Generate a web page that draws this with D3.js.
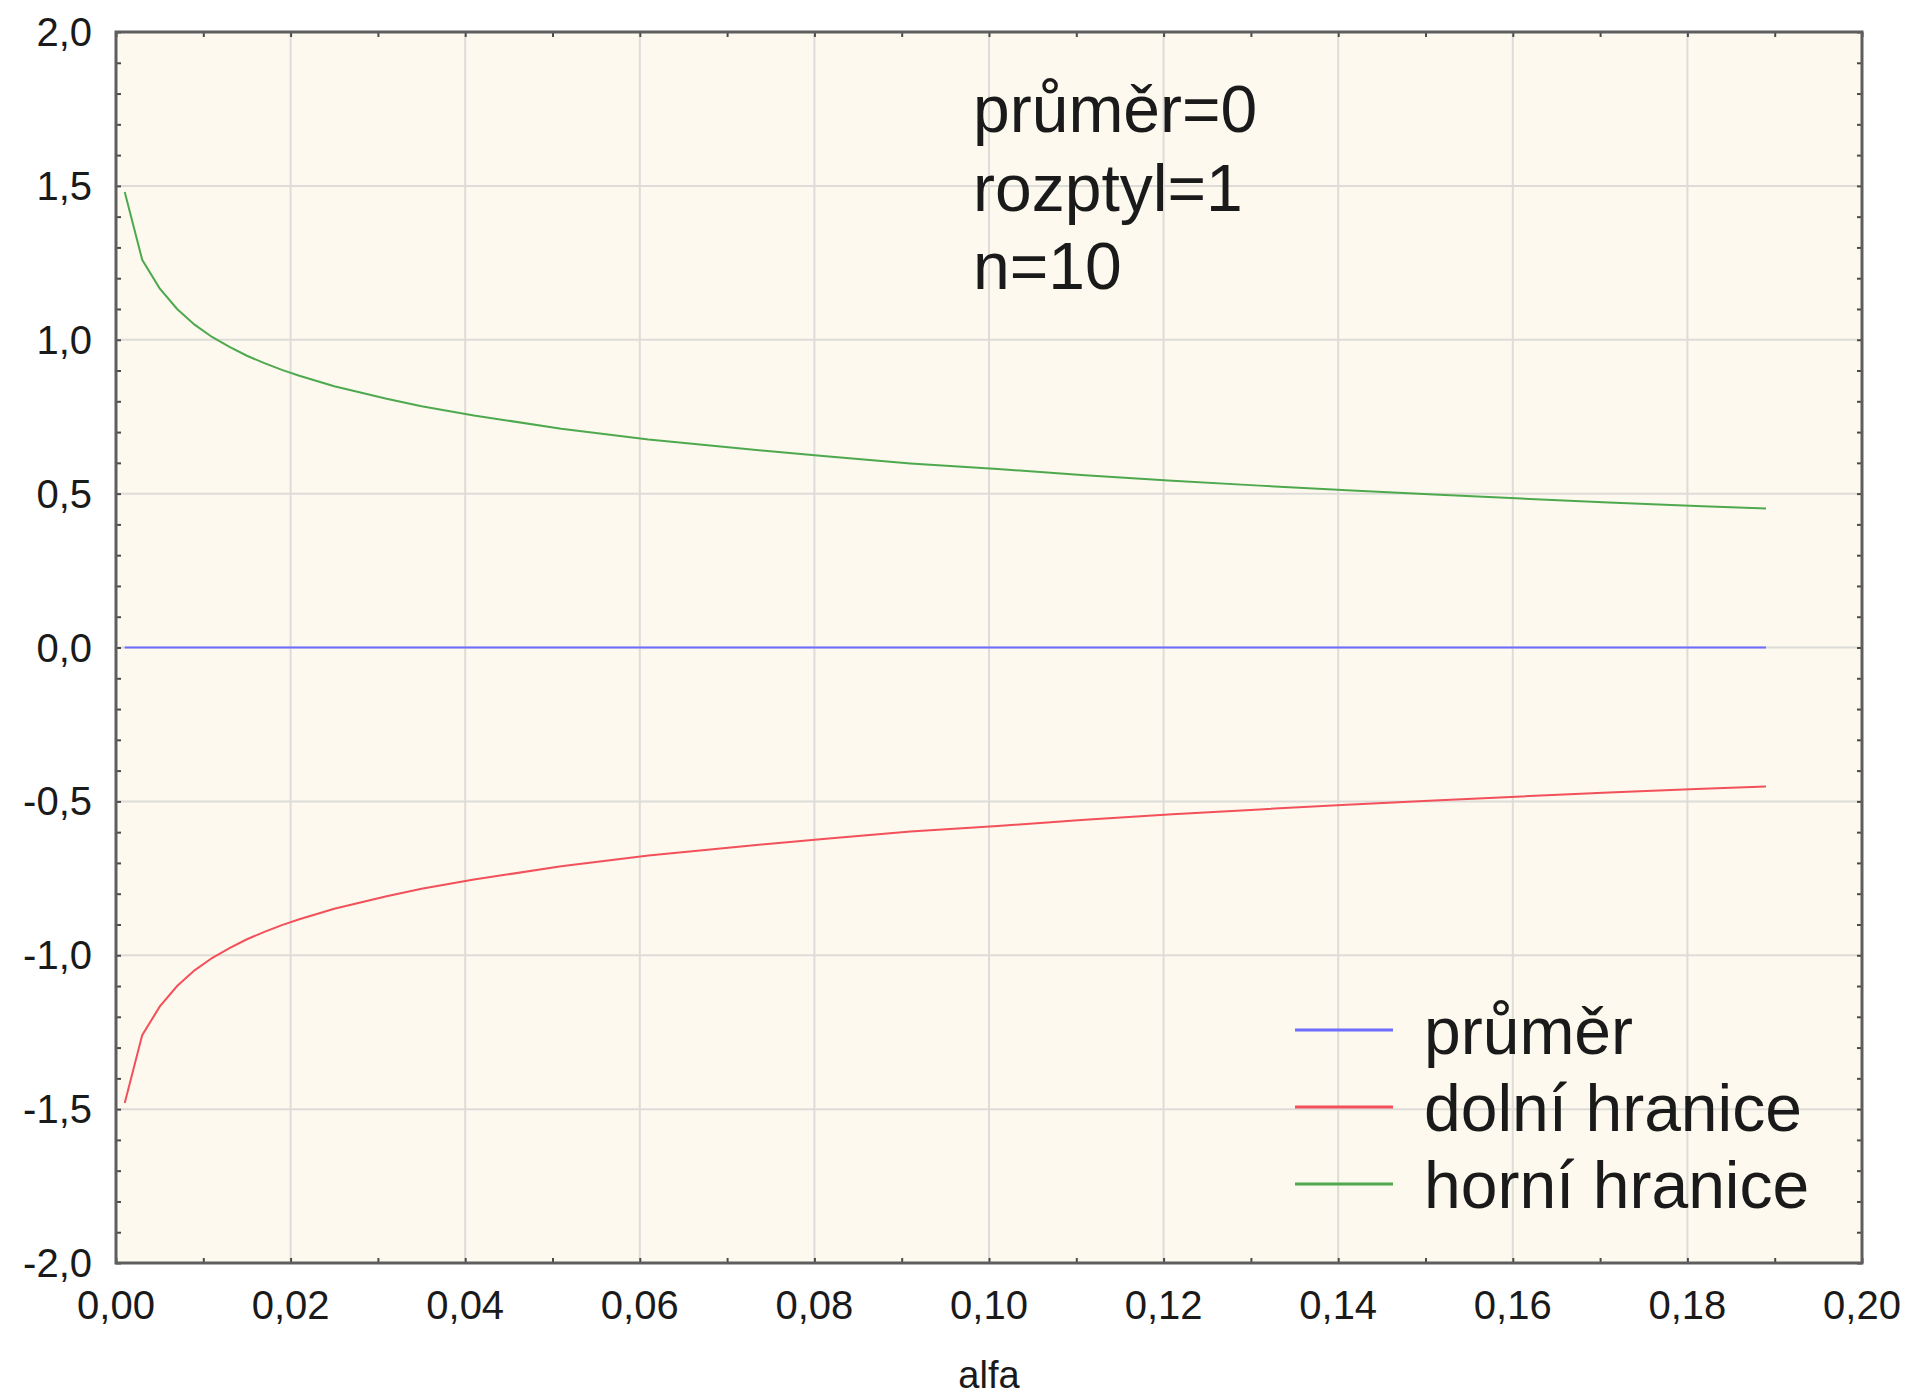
<html lang="cs">
<head>
<meta charset="utf-8">
<title>alfa</title>
<style>
  body { margin: 0; background: #ffffff; }
  text { font-family: "Liberation Sans", Arial, sans-serif; fill: #1a1a1a; }
</style>
<script src="https://d3js.org/d3.v7.min.js"></script>
</head>
<body>
<svg id="chart" width="1912" height="1396"></svg>
<script>
// data
var alfa  = [0.001, 0.003, 0.005, 0.007, 0.009, 0.011, 0.013, 0.015, 0.017, 0.019,
             0.021, 0.025, 0.031, 0.035, 0.041, 0.051, 0.061, 0.071, 0.081, 0.091,
             0.101, 0.111, 0.121, 0.131, 0.141, 0.151, 0.161, 0.171, 0.181, 0.189];
var horni = [1.48, 1.26, 1.167, 1.100, 1.049, 1.009, 0.977, 0.948, 0.924, 0.902,
             0.883, 0.849, 0.808, 0.784, 0.754, 0.711, 0.676, 0.648, 0.622, 0.598,
             0.580, 0.560, 0.542, 0.526, 0.511, 0.497, 0.484, 0.471, 0.460, 0.452];
var dolni = [-1.48, -1.26, -1.167, -1.100, -1.049, -1.009, -0.977, -0.948, -0.924, -0.902,
             -0.883, -0.849, -0.808, -0.784, -0.754, -0.711, -0.676, -0.648, -0.622, -0.598,
             -0.580, -0.560, -0.542, -0.526, -0.511, -0.497, -0.484, -0.471, -0.460, -0.452];
var prumer = [0, 0, 0, 0, 0, 0, 0, 0, 0, 0, 0, 0, 0, 0, 0, 0, 0, 0, 0, 0,
              0, 0, 0, 0, 0, 0, 0, 0, 0, 0];

var xTicks = [0, 0.02, 0.04, 0.06, 0.08, 0.10, 0.12, 0.14, 0.16, 0.18, 0.20];
var yTicks = [-2, -1.5, -1, -0.5, 0, 0.5, 1, 1.5, 2];
var legendNames = ["průměr", "dolní hranice", "horní hranice"];
var infoLines = ["průměr=0", "rozptyl=1", "n=10"];

var colors = {prumer: "#6d6dff", dolni: "#f2505a", horni: "#4ea94e"};

var margin = {top: 32, right: 50, bottom: 133, left: 116},
    width = 1912 - margin.left - margin.right,
    height = 1396 - margin.top - margin.bottom;

var cz = d3.formatLocale({decimal: ",", thousands: " ", grouping: [3], currency: ["", " Kč"], minus: "-"});
var fx = cz.format(".2f"), fy = cz.format(".1f");

var svg = d3.select("#chart").append("g")
  .attr("transform", "translate(" + margin.left + "," + margin.top + ")");

var x = d3.scaleLinear().domain([0, 0.2]).range([0, width]);
var y = d3.scaleLinear().domain([-2, 2]).range([height, 0]);

// plot background
svg.append("rect").attr("width", width).attr("height", height).style("fill", "#fdf9ee");

// grid
svg.append("g").selectAll("line").data(xTicks.slice(1, -1)).enter().append("line")
  .attr("x1", d => x(d)).attr("x2", d => x(d)).attr("y1", 0).attr("y2", height)
  .style("stroke", "#dedcd8").style("stroke-width", 2);
svg.append("g").selectAll("line").data(yTicks.slice(1, -1)).enter().append("line")
  .attr("y1", d => y(d)).attr("y2", d => y(d)).attr("x1", 0).attr("x2", width)
  .style("stroke", "#dedcd8").style("stroke-width", 2);

// inward minor + major ticks on all four sides
var xMinor = d3.range(0, 21).map(i => i / 100);
var yMinor = d3.range(-20, 21).map(i => i / 10);
function ticks(axis, vals) {
  return axis.tickValues(vals).tickSize(-5).tickFormat("");
}
[
  [d3.axisBottom(x), xMinor, "translate(0," + height + ")"],
  [d3.axisTop(x), xMinor, "translate(0,0)"],
  [d3.axisLeft(y), yMinor, "translate(0,0)"],
  [d3.axisRight(y), yMinor, "translate(" + width + ",0)"]
].forEach(function(a) {
  var g = svg.append("g").attr("transform", a[2]).call(ticks(a[0], a[1]));
  g.select(".domain").remove();
  g.selectAll("line").style("stroke", "#4a4a4a").style("stroke-width", 2);
});

// frame
svg.append("rect").attr("width", width).attr("height", height)
  .style("fill", "none").style("stroke", "#5e5e5e").style("stroke-width", 3);

// tick labels
svg.append("g").selectAll("text").data(xTicks).enter().append("text")
  .attr("x", d => x(d)).attr("y", height + 56)
  .attr("text-anchor", "middle").style("font-size", "40px")
  .text(d => fx(d));
svg.append("g").selectAll("text").data(yTicks).enter().append("text")
  .attr("x", -24).attr("y", d => y(d) + 14)
  .attr("text-anchor", "end").style("font-size", "40px")
  .text(d => fy(d));

// axis title
svg.append("text").attr("x", width / 2).attr("y", height + 125)
  .attr("text-anchor", "middle").style("font-size", "38px").text("alfa");

// lines
var line = d3.line().x(d => x(d[0])).y(d => y(d[1]));
[[prumer, colors.prumer], [dolni, colors.dolni], [horni, colors.horni]].forEach(function(s) {
  svg.append("path")
    .datum(alfa.map((a, i) => [a, s[0][i]]))
    .attr("d", line)
    .style("fill", "none").style("stroke", s[1]).style("stroke-width", 2);
});

// annotation
svg.append("g").selectAll("text").data(infoLines).enter().append("text")
  .attr("x", 857).attr("y", (d, i) => 100 + i * 78.5)
  .style("font-size", "66px").text(d => d);

// legend
var legendColors = [colors.prumer, colors.dolni, colors.horni];
var leg = svg.append("g").attr("transform", "translate(1179,998)");
leg.selectAll("line").data(legendNames).enter().append("line")
  .attr("x1", 0).attr("x2", 98)
  .attr("y1", (d, i) => i * 77).attr("y2", (d, i) => i * 77)
  .style("stroke", (d, i) => legendColors[i]).style("stroke-width", 3);
leg.selectAll("text").data(legendNames).enter().append("text")
  .attr("x", 129).attr("y", (d, i) => i * 77 + 24)
  .style("font-size", "66px").text(d => d);
</script>
</body>
</html>
